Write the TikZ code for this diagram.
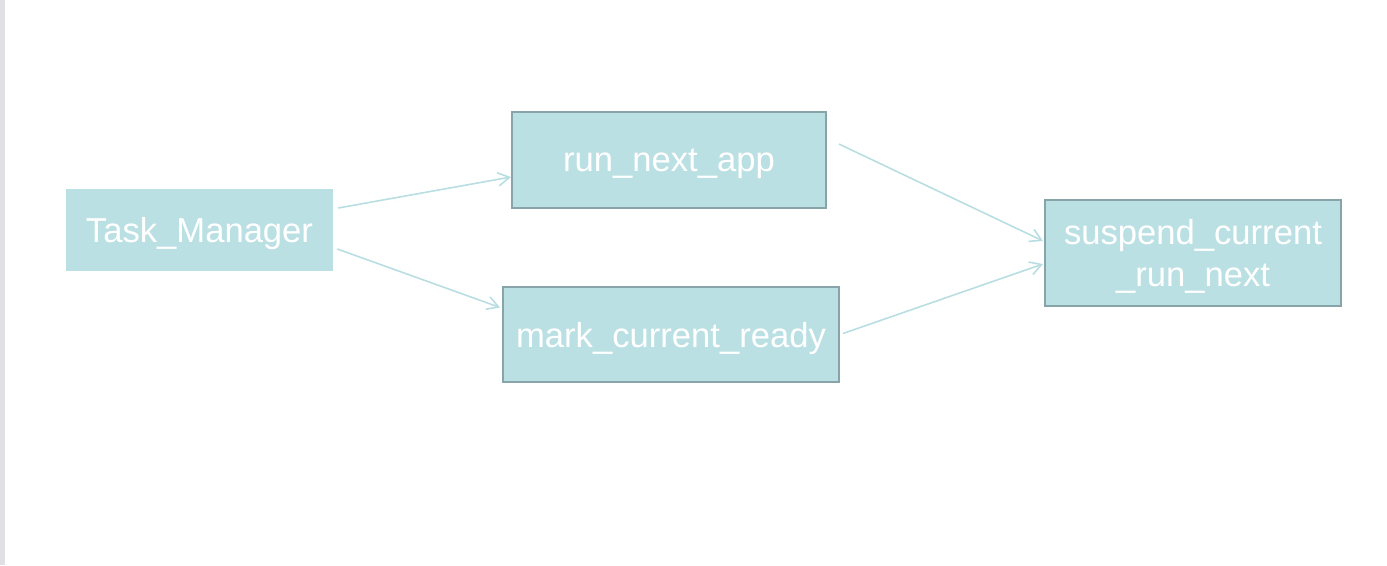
\documentclass[tikz,border=0pt]{standalone}
\usepackage{fontspec}
\setmainfont{Liberation Sans}
\usepackage{xcolor}
\usetikzlibrary{arrows.meta}
\definecolor{boxfill}{HTML}{BBE0E3}
\definecolor{boxline}{HTML}{87A5A9}
\definecolor{arrowcol}{HTML}{B8DEE2}
\definecolor{edgegray}{HTML}{E1E1E5}

\begin{document}
\begin{tikzpicture}[x=0.02cm, y=-0.02cm, every node/.style={font=\fontsize{19.7}{23.9}\selectfont, text=white, align=center},
    taskbox/.style={rectangle, fill=boxfill, inner sep=0pt, text depth=0pt},
    framedbox/.style={taskbox, draw=boxline, line width=1.1pt},
    flow/.style={draw=arrowcol, line width=0.9pt, -{Straight Barb[length=6.5pt, width=7.5pt]}}]
    \useasboundingbox (0,0) rectangle (1387,565);
    % grey strip on the left edge
    \fill[edgegray] (0,0) rectangle (5,565);

    % caller
    \node[taskbox, minimum width=5.34cm, minimum height=1.64cm] (task-manager) at (199.5,230) {Task\_Manager};

    % middle column
    \node[framedbox, minimum width=6.28cm, minimum height=1.92cm] (run-next) at (669,160) {run\_next\_app};
    \node[framedbox, minimum width=6.72cm, minimum height=1.90cm] (mark-ready) at (671,334.5) {mark\_current\_ready};

    % target
    \node[framedbox, minimum width=5.92cm, minimum height=2.12cm] (suspend) at (1193,253) {suspend\_current\\\_run\_next};

    % connectors
    \draw[flow] ([shift={(5,-22)}]task-manager.east) -- ([shift={(0,17)}]run-next.west);
    \draw[flow] ([shift={(4,19)}]task-manager.east) -- ([shift={(-2,-27)}]mark-ready.west);
    \draw[flow] ([shift={(12,-16)}]run-next.east) -- ([shift={(-1,-12)}]suspend.west);
    \draw[flow] ([shift={(3,-1)}]mark-ready.east) -- ([shift={(-1,11)}]suspend.west);
\end{tikzpicture}
\end{document}
